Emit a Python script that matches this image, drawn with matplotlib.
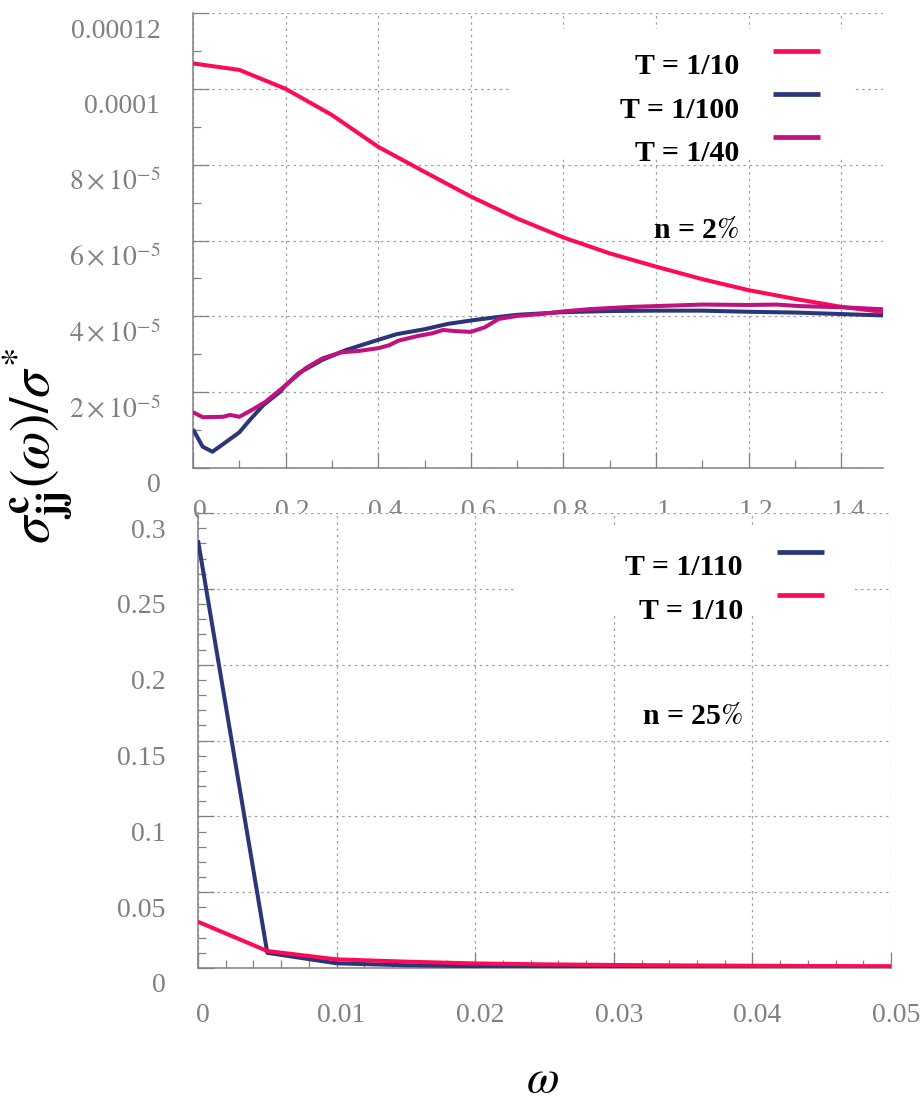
import matplotlib.pyplot as plt
import numpy as np
from matplotlib.legend_handler import HandlerLine2D
from matplotlib.patches import Rectangle
from matplotlib.transforms import ScaledTranslation

plt.rcParams['font.family'] = ['Liberation Serif', 'DejaVu Serif']
plt.rcParams['mathtext.fontset'] = 'stix'

# ---- top panel data (n = 2%) ----
w_t10 = [0, 0.1, 0.2, 0.3, 0.4, 0.5, 0.6, 0.7, 0.8, 0.9, 1.0, 1.1, 1.2, 1.3, 1.4, 1.5]
s_t10 = [1.067e-4, 1.050e-4, 1.000e-4, 9.31e-5, 8.47e-5, 7.81e-5, 7.16e-5, 6.58e-5,
         6.08e-5, 5.66e-5, 5.31e-5, 4.98e-5, 4.69e-5, 4.46e-5, 4.25e-5, 4.10e-5]

w_t100 = [0, 0.021, 0.042, 0.065, 0.1, 0.123, 0.152, 0.188, 0.2, 0.228, 0.279, 0.33,
          0.4, 0.44, 0.5, 0.55, 0.6, 0.65, 0.7, 0.8, 0.9, 1.0, 1.1, 1.2, 1.3, 1.4, 1.5]
s_t100 = [1.02e-5, 0.56e-5, 0.43e-5, 0.63e-5, 0.94e-5, 1.27e-5, 1.66e-5, 2.01e-5,
          2.18e-5, 2.50e-5, 2.85e-5, 3.11e-5, 3.38e-5, 3.53e-5, 3.66e-5, 3.80e-5,
          3.89e-5, 3.97e-5, 4.04e-5, 4.11e-5, 4.14e-5, 4.15e-5, 4.15e-5, 4.12e-5,
          4.10e-5, 4.06e-5, 4.02e-5]

w_t40 = [0, 0.021, 0.065, 0.08, 0.1, 0.127, 0.157, 0.2, 0.243, 0.279, 0.32, 0.36, 0.4,
         0.424, 0.444, 0.485, 0.516, 0.54, 0.567, 0.6, 0.63, 0.66, 0.7, 0.75, 0.8,
         0.856, 0.948, 1.0, 1.1, 1.2, 1.26, 1.31, 1.4, 1.5]
s_t40 = [1.47e-5, 1.34e-5, 1.35e-5, 1.40e-5, 1.35e-5, 1.53e-5, 1.75e-5, 2.18e-5,
         2.63e-5, 2.89e-5, 3.05e-5, 3.09e-5, 3.16e-5, 3.24e-5, 3.36e-5, 3.48e-5,
         3.55e-5, 3.64e-5, 3.61e-5, 3.59e-5, 3.71e-5, 3.93e-5, 4.01e-5, 4.06e-5,
         4.13e-5, 4.19e-5, 4.25e-5, 4.27e-5, 4.31e-5, 4.30e-5, 4.31e-5, 4.27e-5,
         4.24e-5, 4.18e-5]

# ---- bottom panel data (n = 25%) ----
w_low = [0, 0.005, 0.01, 0.015, 0.02, 0.025, 0.03, 0.035, 0.04, 0.045, 0.05]
s_t110 = [0.282, 0.0100, 0.0031, 0.0018, 0.0012, 0.0009, 0.0007, 0.0006, 0.0005, 0.0005, 0.0004]
s_t10b = [0.0305, 0.0112, 0.0057, 0.0042, 0.0030, 0.0024, 0.0020, 0.0017, 0.0015, 0.0013, 0.0012]

top_xticks = [0, 0.2, 0.4, 0.6, 0.8, 1.0, 1.2, 1.4]
top_xlabels = ['0', '0.2', '0.4', '0.6', '0.8', '1', '1.2', '1.4']
top_yticks = [0, 2e-5, 4e-5, 6e-5, 8e-5, 1e-4, 1.2e-4]
top_ylabels = ['0', r'$2\times10^{-5}$', r'$4\times10^{-5}$', r'$6\times10^{-5}$',
               r'$8\times10^{-5}$', '0.0001', '0.00012']
bot_xticks = [0, 0.01, 0.02, 0.03, 0.04, 0.05]
bot_xlabels = ['0', '0.01', '0.02', '0.03', '0.04', '0.05']
bot_yticks = [0, 0.05, 0.1, 0.15, 0.2, 0.25, 0.3]
bot_ylabels = ['0', '0.05', '0.1', '0.15', '0.2', '0.25', '0.3']

RED = '#ff0a55'
BLUE = '#2a3679'
MAG = '#c0127f'
GRAY = '#808080'
LW = 2.9


class RaisedLine(HandlerLine2D):
    # legend key sits near the cap height of the label, not its middle
    def create_artists(self, legend, orig_handle, xdescent, ydescent, width, height, fontsize, trans):
        arts = super().create_artists(legend, orig_handle, xdescent, ydescent, width, height, fontsize, trans)
        for a in arts:
            a.set_ydata(np.asarray(a.get_ydata()) + 0.45 * fontsize)
            a.set_linewidth(3.4)
        return arts


fig = plt.figure(figsize=(9.24, 11.06), dpi=100)
ax1 = fig.add_axes([193 / 924, 1 - 468 / 1106, 690 / 924, 455 / 1106])
ax2 = fig.add_axes([198 / 924, 1 - 968 / 1106, 693 / 924, 455 / 1106])


def style(ax, xt, xl, yt, yl, xminor, yminor, xpad, xdx):
    ax.set_xticks(xt, xl)
    ax.set_yticks(yt, yl)
    ax.set_xticks(xminor, minor=True)
    ax.set_yticks(yminor, minor=True)
    for s in ['top', 'right']:
        ax.spines[s].set_visible(False)
    for s in ['left', 'bottom']:
        ax.spines[s].set_color(GRAY)
        ax.spines[s].set_linewidth(1.1)
    ax.tick_params(which='both', direction='in', color=GRAY, width=0.9,
                   labelcolor=GRAY, labelsize=20)
    ax.tick_params(which='major', length=11.5)
    ax.tick_params(which='minor', length=5.8)
    ax.tick_params(axis='y', pad=23.5)
    ax.tick_params(axis='x', pad=xpad)
    ax.grid(True, which='major', color='#a0a0a0', linewidth=0.9, linestyle=(0, (2, 3)))
    off_y = ScaledTranslation(0, -15 / 100, fig.dpi_scale_trans)
    for t in ax.get_yticklabels():
        t.set_transform(t.get_transform() + off_y)
    off_x = ScaledTranslation(xdx / 100, 0, fig.dpi_scale_trans)
    for t in ax.get_xticklabels():
        t.set_transform(t.get_transform() + off_x)


# top panel
l1, = ax1.plot(w_t10, s_t10, color=RED, lw=LW, solid_capstyle='butt', zorder=3)
l2, = ax1.plot(w_t100, s_t100, color=BLUE, lw=LW, solid_capstyle='butt', zorder=3)
l3, = ax1.plot(w_t40, s_t40, color=MAG, lw=LW, solid_capstyle='butt', zorder=3)
ax1.set_xlim(0, 1.49)
ax1.set_ylim(0, 1.2e-4)
style(ax1, top_xticks, top_xlabels, top_yticks, top_ylabels,
      np.arange(0, 1.5, 0.1), np.arange(0, 1.21e-4, 1e-5), 22, 7)

ax1.add_patch(Rectangle((0.462, 0.684), 0.493, 0.281, transform=ax1.transAxes,
                        facecolor='white', edgecolor='none', zorder=1.8))
leg1 = ax1.legend([l1, l2, l3], ['T = 1/10', 'T = 1/100', 'T = 1/40'],
                  loc='upper right', bbox_to_anchor=(0.909, 0.911), frameon=False,
                  markerfirst=False, borderpad=0, borderaxespad=0,
                  handlelength=1.57, handletextpad=1.14, labelspacing=0.54,
                  prop={'size': 21.5, 'weight': 'bold'},
                  handler_map={l1: RaisedLine(), l2: RaisedLine(), l3: RaisedLine()})
leg1._legend_handle_box.get_children()[0].align = 'right'
ax1.text(0.791, 0.523, r'n = 2$\%$', transform=ax1.transAxes, ha='right', va='center',
         fontsize=21.5, fontweight='bold')

# bottom panel
m1, = ax2.plot(w_low, s_t110, color=BLUE, lw=LW, solid_capstyle='butt', zorder=3)
m2, = ax2.plot(w_low, s_t10b, color=RED, lw=LW, solid_capstyle='butt', zorder=3)
ax2.set_xlim(0, 0.05)
ax2.set_ylim(0, 0.3)
style(ax2, bot_xticks, bot_xlabels, bot_yticks, bot_ylabels,
      np.arange(0, 0.0501, 0.002), np.arange(0, 0.301, 0.01), 25, 5)

ax2.add_patch(Rectangle((0.457, 0.776), 0.491, 0.191, transform=ax2.transAxes,
                        facecolor='white', edgecolor='none', zorder=1.8))
leg2 = ax2.legend([m1, m2], ['T = 1/110', 'T = 1/10'],
                  loc='upper right', bbox_to_anchor=(0.903, 0.909), frameon=False,
                  markerfirst=False, borderpad=0, borderaxespad=0,
                  handlelength=1.57, handletextpad=1.14, labelspacing=0.54,
                  prop={'size': 21.5, 'weight': 'bold'},
                  handler_map={m1: RaisedLine(), m2: RaisedLine()})
leg2._legend_handle_box.get_children()[0].align = 'right'
ax2.text(0.786, 0.552, r'n = 25$\%$', transform=ax2.transAxes, ha='right', va='center',
         fontsize=21.5, fontweight='bold')

fig.text(0.040, 0.597, r'$\sigma^{\mathbf{c}}_{\mathbf{jj}}(\omega)/\sigma^{*}$',
         rotation=90, ha='center', va='center', fontsize=40)
fig.text(0.587, 0.004, r'$\omega$', ha='center', va='bottom', fontsize=34)

fig.savefig('out.png', dpi=100)
